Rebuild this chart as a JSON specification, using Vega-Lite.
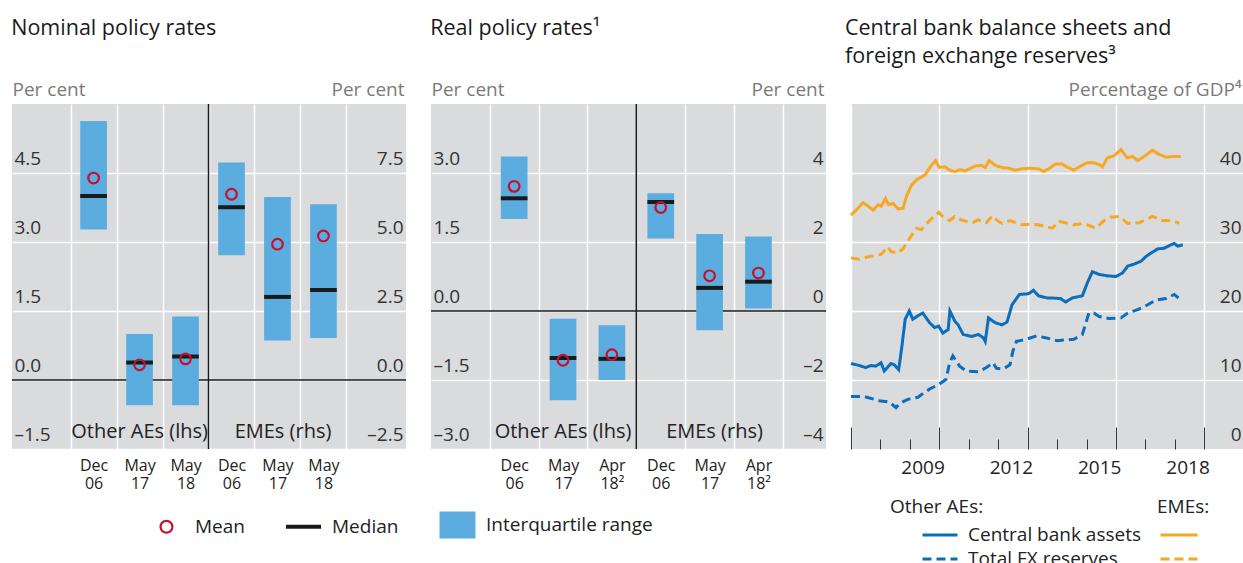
{
  "$schema": "https://vega.github.io/schema/vega-lite/v6.json",
  "padding": {"top": 17, "left": 11, "right": 0, "bottom": 0},
  "bounds": "flush",
  "spacing": 10,
  "config": {
    "font": "Open Sans",
    "view": {"fill": "#dadbdd", "stroke": null},
    "axis": {"labelFont": "Open Sans", "labelFontSize": 19, "labelColor": "#333333", "gridColor": "#ffffff", "gridWidth": 1.5, "domain": false, "ticks": false, "titleFont": "Open Sans", "titleFontWeight": "normal", "titleFontSize": 19, "titleColor": "#7a7a7a"},
    "title": {"font": "Open Sans", "fontSize": 21.5, "fontWeight": "normal", "anchor": "start", "color": "#1a1a1a", "lineHeight": 28},
    "legend": {"labelFont": "Open Sans", "labelFontSize": 19, "labelColor": "#222222", "labelLimit": 400, "titleFont": "Open Sans", "titleFontSize": 19, "titleFontWeight": "normal", "titleColor": "#222222"},
    "text": {"font": "Open Sans", "fontSize": 20, "color": "#222222"}
  },
  "datasets": {
    "nominal": [
      {"group": "Other AEs", "period": "Dec 06", "slot": 1, "q1": 3.27, "q3": 5.63, "median": 4.0, "mean": 4.39},
      {"group": "Other AEs", "period": "May 17", "slot": 2, "q1": -0.55, "q3": 1.0, "median": 0.38, "mean": 0.33},
      {"group": "Other AEs", "period": "May 18", "slot": 3, "q1": -0.55, "q3": 1.38, "median": 0.51, "mean": 0.46},
      {"group": "EMEs", "period": "Dec 06", "slot": 4, "q1": 4.52, "q3": 7.88, "median": 6.26, "mean": 6.73},
      {"group": "EMEs", "period": "May 17", "slot": 5, "q1": 1.43, "q3": 6.63, "median": 3.01, "mean": 4.92},
      {"group": "EMEs", "period": "May 18", "slot": 6, "q1": 1.52, "q3": 6.37, "median": 3.26, "mean": 5.22}
    ],
    "real": [
      {"group": "Other AEs", "period": "Dec 06", "slot": 1, "q1": 2.0, "q3": 3.36, "median": 2.45, "mean": 2.71},
      {"group": "Other AEs", "period": "May 17", "slot": 2, "q1": -1.94, "q3": -0.17, "median": -1.02, "mean": -1.07},
      {"group": "Other AEs", "period": "Apr 18", "slot": 3, "q1": -1.5, "q3": -0.31, "median": -1.04, "mean": -0.95},
      {"group": "EMEs", "period": "Dec 06", "slot": 4, "q1": 2.1, "q3": 3.41, "median": 3.16, "mean": 3.0},
      {"group": "EMEs", "period": "May 17", "slot": 5, "q1": -0.56, "q3": 2.23, "median": 0.67, "mean": 1.02},
      {"group": "EMEs", "period": "Apr 18", "slot": 6, "q1": 0.07, "q3": 2.16, "median": 0.85, "mean": 1.1}
    ],
    "legendItems": [{"item": "Mean"}, {"item": "Median"}, {"item": "Interquartile range"}],
    "ae": [
      {"measure": "Central bank assets", "t": 2007.0, "v": 12.4}, {"measure": "Central bank assets", "t": 2007.28, "v": 12.1}, {"measure": "Central bank assets", "t": 2007.5, "v": 11.8}, {"measure": "Central bank assets", "t": 2007.67, "v": 12.1}, {"measure": "Central bank assets", "t": 2007.84, "v": 12.0}, {"measure": "Central bank assets", "t": 2008.02, "v": 12.5}, {"measure": "Central bank assets", "t": 2008.13, "v": 11.3}, {"measure": "Central bank assets", "t": 2008.36, "v": 12.4}, {"measure": "Central bank assets", "t": 2008.47, "v": 12.2}, {"measure": "Central bank assets", "t": 2008.62, "v": 11.5}, {"measure": "Central bank assets", "t": 2008.73, "v": 14.9}, {"measure": "Central bank assets", "t": 2008.84, "v": 18.8}, {"measure": "Central bank assets", "t": 2008.98, "v": 20.0}, {"measure": "Central bank assets", "t": 2009.1, "v": 18.8}, {"measure": "Central bank assets", "t": 2009.27, "v": 19.3}, {"measure": "Central bank assets", "t": 2009.44, "v": 19.7}, {"measure": "Central bank assets", "t": 2009.67, "v": 18.3}, {"measure": "Central bank assets", "t": 2009.84, "v": 17.6}, {"measure": "Central bank assets", "t": 2009.98, "v": 17.8}, {"measure": "Central bank assets", "t": 2010.12, "v": 16.8}, {"measure": "Central bank assets", "t": 2010.3, "v": 17.3}, {"measure": "Central bank assets", "t": 2010.36, "v": 20.0}, {"measure": "Central bank assets", "t": 2010.53, "v": 18.5}, {"measure": "Central bank assets", "t": 2010.64, "v": 18.0}, {"measure": "Central bank assets", "t": 2010.81, "v": 16.6}, {"measure": "Central bank assets", "t": 2011.1, "v": 16.3}, {"measure": "Central bank assets", "t": 2011.33, "v": 16.6}, {"measure": "Central bank assets", "t": 2011.5, "v": 16.1}, {"measure": "Central bank assets", "t": 2011.56, "v": 15.6}, {"measure": "Central bank assets", "t": 2011.67, "v": 19.0}, {"measure": "Central bank assets", "t": 2011.9, "v": 18.3}, {"measure": "Central bank assets", "t": 2012.13, "v": 18.0}, {"measure": "Central bank assets", "t": 2012.3, "v": 18.4}, {"measure": "Central bank assets", "t": 2012.47, "v": 20.9}, {"measure": "Central bank assets", "t": 2012.72, "v": 22.4}, {"measure": "Central bank assets", "t": 2013.03, "v": 22.5}, {"measure": "Central bank assets", "t": 2013.2, "v": 23.0}, {"measure": "Central bank assets", "t": 2013.37, "v": 22.2}, {"measure": "Central bank assets", "t": 2013.66, "v": 21.9}, {"measure": "Central bank assets", "t": 2013.78, "v": 21.9}, {"measure": "Central bank assets", "t": 2014.12, "v": 21.8}, {"measure": "Central bank assets", "t": 2014.29, "v": 21.3}, {"measure": "Central bank assets", "t": 2014.52, "v": 21.9}, {"measure": "Central bank assets", "t": 2014.86, "v": 22.2}, {"measure": "Central bank assets", "t": 2015.03, "v": 24.1}, {"measure": "Central bank assets", "t": 2015.2, "v": 25.7}, {"measure": "Central bank assets", "t": 2015.43, "v": 25.3}, {"measure": "Central bank assets", "t": 2015.71, "v": 25.1}, {"measure": "Central bank assets", "t": 2016.0, "v": 25.0}, {"measure": "Central bank assets", "t": 2016.22, "v": 25.5}, {"measure": "Central bank assets", "t": 2016.4, "v": 26.5}, {"measure": "Central bank assets", "t": 2016.62, "v": 26.8}, {"measure": "Central bank assets", "t": 2016.85, "v": 27.2}, {"measure": "Central bank assets", "t": 2017.02, "v": 27.9}, {"measure": "Central bank assets", "t": 2017.19, "v": 28.4}, {"measure": "Central bank assets", "t": 2017.42, "v": 29.0}, {"measure": "Central bank assets", "t": 2017.64, "v": 29.1}, {"measure": "Central bank assets", "t": 2017.87, "v": 29.6}, {"measure": "Central bank assets", "t": 2017.98, "v": 29.8}, {"measure": "Central bank assets", "t": 2018.1, "v": 29.4}, {"measure": "Central bank assets", "t": 2018.27, "v": 29.6},
      {"measure": "Total FX reserves", "t": 2007.0, "v": 7.6}, {"measure": "Total FX reserves", "t": 2007.45, "v": 7.6}, {"measure": "Total FX reserves", "t": 2007.96, "v": 7.0}, {"measure": "Total FX reserves", "t": 2008.3, "v": 6.8}, {"measure": "Total FX reserves", "t": 2008.53, "v": 6.0}, {"measure": "Total FX reserves", "t": 2008.65, "v": 6.6}, {"measure": "Total FX reserves", "t": 2008.93, "v": 7.2}, {"measure": "Total FX reserves", "t": 2009.27, "v": 7.5}, {"measure": "Total FX reserves", "t": 2009.67, "v": 8.7}, {"measure": "Total FX reserves", "t": 2010.0, "v": 9.4}, {"measure": "Total FX reserves", "t": 2010.23, "v": 10.1}, {"measure": "Total FX reserves", "t": 2010.35, "v": 12.5}, {"measure": "Total FX reserves", "t": 2010.46, "v": 13.5}, {"measure": "Total FX reserves", "t": 2010.69, "v": 12.0}, {"measure": "Total FX reserves", "t": 2010.92, "v": 11.3}, {"measure": "Total FX reserves", "t": 2011.32, "v": 11.2}, {"measure": "Total FX reserves", "t": 2011.6, "v": 11.8}, {"measure": "Total FX reserves", "t": 2011.83, "v": 12.5}, {"measure": "Total FX reserves", "t": 2011.94, "v": 11.7}, {"measure": "Total FX reserves", "t": 2012.17, "v": 11.6}, {"measure": "Total FX reserves", "t": 2012.4, "v": 12.2}, {"measure": "Total FX reserves", "t": 2012.5, "v": 14.2}, {"measure": "Total FX reserves", "t": 2012.62, "v": 15.6}, {"measure": "Total FX reserves", "t": 2012.96, "v": 15.9}, {"measure": "Total FX reserves", "t": 2013.3, "v": 16.4}, {"measure": "Total FX reserves", "t": 2013.64, "v": 16.1}, {"measure": "Total FX reserves", "t": 2014.0, "v": 15.7}, {"measure": "Total FX reserves", "t": 2014.57, "v": 15.9}, {"measure": "Total FX reserves", "t": 2014.86, "v": 16.6}, {"measure": "Total FX reserves", "t": 2015.08, "v": 19.7}, {"measure": "Total FX reserves", "t": 2015.25, "v": 19.7}, {"measure": "Total FX reserves", "t": 2015.43, "v": 19.2}, {"measure": "Total FX reserves", "t": 2015.77, "v": 18.9}, {"measure": "Total FX reserves", "t": 2016.17, "v": 19.0}, {"measure": "Total FX reserves", "t": 2016.4, "v": 19.7}, {"measure": "Total FX reserves", "t": 2016.74, "v": 20.2}, {"measure": "Total FX reserves", "t": 2017.08, "v": 20.9}, {"measure": "Total FX reserves", "t": 2017.36, "v": 21.6}, {"measure": "Total FX reserves", "t": 2017.7, "v": 21.8}, {"measure": "Total FX reserves", "t": 2017.98, "v": 22.4}, {"measure": "Total FX reserves", "t": 2018.15, "v": 21.8}
    ],
    "eme": [
      {"measure": "Central bank assets", "t": 2007.0, "v": 33.9}, {"measure": "Central bank assets", "t": 2007.17, "v": 34.6}, {"measure": "Central bank assets", "t": 2007.41, "v": 35.7}, {"measure": "Central bank assets", "t": 2007.58, "v": 35.2}, {"measure": "Central bank assets", "t": 2007.75, "v": 34.6}, {"measure": "Central bank assets", "t": 2007.92, "v": 35.4}, {"measure": "Central bank assets", "t": 2008.03, "v": 35.2}, {"measure": "Central bank assets", "t": 2008.17, "v": 36.3}, {"measure": "Central bank assets", "t": 2008.28, "v": 35.4}, {"measure": "Central bank assets", "t": 2008.43, "v": 35.6}, {"measure": "Central bank assets", "t": 2008.6, "v": 34.8}, {"measure": "Central bank assets", "t": 2008.77, "v": 34.9}, {"measure": "Central bank assets", "t": 2008.88, "v": 36.6}, {"measure": "Central bank assets", "t": 2009.05, "v": 38.2}, {"measure": "Central bank assets", "t": 2009.22, "v": 39.0}, {"measure": "Central bank assets", "t": 2009.51, "v": 39.7}, {"measure": "Central bank assets", "t": 2009.68, "v": 40.8}, {"measure": "Central bank assets", "t": 2009.87, "v": 41.8}, {"measure": "Central bank assets", "t": 2010.0, "v": 40.8}, {"measure": "Central bank assets", "t": 2010.19, "v": 40.9}, {"measure": "Central bank assets", "t": 2010.36, "v": 40.4}, {"measure": "Central bank assets", "t": 2010.53, "v": 40.2}, {"measure": "Central bank assets", "t": 2010.7, "v": 40.5}, {"measure": "Central bank assets", "t": 2010.87, "v": 40.3}, {"measure": "Central bank assets", "t": 2011.22, "v": 41.0}, {"measure": "Central bank assets", "t": 2011.44, "v": 41.1}, {"measure": "Central bank assets", "t": 2011.56, "v": 40.8}, {"measure": "Central bank assets", "t": 2011.69, "v": 41.8}, {"measure": "Central bank assets", "t": 2011.9, "v": 41.1}, {"measure": "Central bank assets", "t": 2012.13, "v": 40.8}, {"measure": "Central bank assets", "t": 2012.35, "v": 40.7}, {"measure": "Central bank assets", "t": 2012.58, "v": 40.4}, {"measure": "Central bank assets", "t": 2012.8, "v": 40.6}, {"measure": "Central bank assets", "t": 2013.09, "v": 40.7}, {"measure": "Central bank assets", "t": 2013.38, "v": 40.6}, {"measure": "Central bank assets", "t": 2013.55, "v": 40.2}, {"measure": "Central bank assets", "t": 2013.71, "v": 40.6}, {"measure": "Central bank assets", "t": 2013.95, "v": 41.3}, {"measure": "Central bank assets", "t": 2014.17, "v": 41.3}, {"measure": "Central bank assets", "t": 2014.33, "v": 40.9}, {"measure": "Central bank assets", "t": 2014.57, "v": 40.4}, {"measure": "Central bank assets", "t": 2014.8, "v": 41.0}, {"measure": "Central bank assets", "t": 2015.03, "v": 41.5}, {"measure": "Central bank assets", "t": 2015.26, "v": 41.5}, {"measure": "Central bank assets", "t": 2015.43, "v": 41.2}, {"measure": "Central bank assets", "t": 2015.54, "v": 40.9}, {"measure": "Central bank assets", "t": 2015.71, "v": 42.2}, {"measure": "Central bank assets", "t": 2015.94, "v": 42.5}, {"measure": "Central bank assets", "t": 2016.17, "v": 43.4}, {"measure": "Central bank assets", "t": 2016.38, "v": 42.2}, {"measure": "Central bank assets", "t": 2016.57, "v": 42.4}, {"measure": "Central bank assets", "t": 2016.74, "v": 41.8}, {"measure": "Central bank assets", "t": 2016.96, "v": 42.4}, {"measure": "Central bank assets", "t": 2017.24, "v": 43.3}, {"measure": "Central bank assets", "t": 2017.47, "v": 42.7}, {"measure": "Central bank assets", "t": 2017.7, "v": 42.3}, {"measure": "Central bank assets", "t": 2017.92, "v": 42.4}, {"measure": "Central bank assets", "t": 2018.2, "v": 42.4},
      {"measure": "Total FX reserves", "t": 2007.0, "v": 27.7}, {"measure": "Total FX reserves", "t": 2007.28, "v": 27.5}, {"measure": "Total FX reserves", "t": 2007.62, "v": 27.9}, {"measure": "Total FX reserves", "t": 2008.02, "v": 28.2}, {"measure": "Total FX reserves", "t": 2008.25, "v": 29.3}, {"measure": "Total FX reserves", "t": 2008.36, "v": 28.6}, {"measure": "Total FX reserves", "t": 2008.59, "v": 28.4}, {"measure": "Total FX reserves", "t": 2008.76, "v": 29.0}, {"measure": "Total FX reserves", "t": 2008.99, "v": 30.5}, {"measure": "Total FX reserves", "t": 2009.22, "v": 32.0}, {"measure": "Total FX reserves", "t": 2009.39, "v": 31.8}, {"measure": "Total FX reserves", "t": 2009.67, "v": 33.1}, {"measure": "Total FX reserves", "t": 2009.98, "v": 34.3}, {"measure": "Total FX reserves", "t": 2010.12, "v": 33.7}, {"measure": "Total FX reserves", "t": 2010.35, "v": 33.1}, {"measure": "Total FX reserves", "t": 2010.52, "v": 33.7}, {"measure": "Total FX reserves", "t": 2010.8, "v": 33.1}, {"measure": "Total FX reserves", "t": 2011.14, "v": 32.8}, {"measure": "Total FX reserves", "t": 2011.31, "v": 33.2}, {"measure": "Total FX reserves", "t": 2011.6, "v": 32.8}, {"measure": "Total FX reserves", "t": 2011.8, "v": 33.8}, {"measure": "Total FX reserves", "t": 2012.0, "v": 33.0}, {"measure": "Total FX reserves", "t": 2012.13, "v": 32.7}, {"measure": "Total FX reserves", "t": 2012.4, "v": 33.1}, {"measure": "Total FX reserves", "t": 2012.8, "v": 32.5}, {"measure": "Total FX reserves", "t": 2013.09, "v": 32.6}, {"measure": "Total FX reserves", "t": 2013.37, "v": 32.5}, {"measure": "Total FX reserves", "t": 2013.84, "v": 32.0}, {"measure": "Total FX reserves", "t": 2014.07, "v": 33.0}, {"measure": "Total FX reserves", "t": 2014.57, "v": 32.5}, {"measure": "Total FX reserves", "t": 2014.91, "v": 32.7}, {"measure": "Total FX reserves", "t": 2015.31, "v": 32.0}, {"measure": "Total FX reserves", "t": 2015.6, "v": 33.1}, {"measure": "Total FX reserves", "t": 2015.82, "v": 33.6}, {"measure": "Total FX reserves", "t": 2016.11, "v": 33.7}, {"measure": "Total FX reserves", "t": 2016.4, "v": 32.7}, {"measure": "Total FX reserves", "t": 2016.79, "v": 32.8}, {"measure": "Total FX reserves", "t": 2017.24, "v": 33.7}, {"measure": "Total FX reserves", "t": 2017.58, "v": 33.1}, {"measure": "Total FX reserves", "t": 2017.92, "v": 33.1}, {"measure": "Total FX reserves", "t": 2018.15, "v": 32.7}
    ]
  },
  "vconcat": [
    {
      "bounds": "flush",
      "spacing": 25,
      "hconcat": [
        {
          "width": 394,
          "height": 345,
          "view": {"fill": "#dadbdd", "stroke": null},
          "title": {"text": "Nominal policy rates", "offset": 41},
          "data": {"name": "nominal"},
          "layer": [
            {
              "layer": [
                {
                  "data": {"values": [{}]},
                  "mark": {"type": "rule", "color": "#1a1a1a", "strokeWidth": 1.5},
                  "encoding": {
                    "y": {"datum": 0, "type": "quantitative", "scale": {"domain": [-1.5, 6], "nice": false, "zero": false},
                      "axis": {"orient": "left", "values": [-1.5, 0, 1.5, 3, 4.5], "labelExpr": "(datum.value < 0 ? '–' : '') + format(abs(datum.value), '.1f')", "labelAlign": "left", "labelPadding": -2, "labelBaseline": "alphabetic", "labelOffset": -9, "labelOverlap": false, "labelFlush": false, "grid": true, "title": "Per cent", "titleAngle": 0, "titleAlign": "left", "titleBaseline": "alphabetic", "titleX": 0, "titleY": -9}}
                  }
                },
                {
                  "data": {"values": [{}]},
                  "mark": {"type": "rule", "color": "#1a1a1a", "strokeWidth": 1.5},
                  "encoding": {
                    "x": {"datum": 3.5, "type": "quantitative", "scale": {"domain": [-0.666, 7.687], "nice": false, "zero": false},
                      "axis": {"orient": "bottom", "values": [0.5, 1.5, 2.5, 3.5, 4.5, 5.5, 6.5], "title": null, "grid": true, "labels": false}}
                  }
                },
                {
                  "transform": [{"filter": "datum.group === 'Other AEs'"}],
                  "mark": {"type": "bar", "width": 26.7, "color": "#5badE0"},
                  "encoding": {
                    "x": {"field": "slot", "type": "quantitative", "scale": {"domain": [-0.666, 7.687], "nice": false, "zero": false}},
                    "y": {"field": "q1", "type": "quantitative", "scale": {"domain": [-1.5, 6], "nice": false, "zero": false}},
                    "y2": {"field": "q3"}
                  }
                },
                {
                  "transform": [{"filter": "datum.group === 'Other AEs'"}],
                  "mark": {"type": "tick", "orient": "horizontal", "size": 26.7, "thickness": 4, "color": "#1a1a1a", "opacity": 1},
                  "encoding": {
                    "x": {"field": "slot", "type": "quantitative", "scale": {"domain": [-0.666, 7.687], "nice": false, "zero": false}},
                    "y": {"field": "median", "type": "quantitative", "scale": {"domain": [-1.5, 6], "nice": false, "zero": false}}
                  }
                },
                {
                  "transform": [{"filter": "datum.group === 'Other AEs'"}],
                  "mark": {"type": "point", "shape": "circle", "filled": false, "stroke": "#c8102e", "strokeWidth": 2.2, "size": 113, "opacity": 1},
                  "encoding": {
                    "x": {"field": "slot", "type": "quantitative", "scale": {"domain": [-0.666, 7.687], "nice": false, "zero": false}},
                    "y": {"field": "mean", "type": "quantitative", "scale": {"domain": [-1.5, 6], "nice": false, "zero": false}}
                  }
                },
                {
                  "data": {"values": [{}]},
                  "mark": {"type": "text", "baseline": "middle", "align": "center"},
                  "encoding": {
                    "x": {"datum": 2, "type": "quantitative"},
                    "y": {"datum": -1.13, "type": "quantitative"},
                    "text": {"value": "Other AEs (lhs)"}
                  }
                },
                {
                  "data": {"values": [{}]},
                  "mark": {"type": "text", "baseline": "middle", "align": "center"},
                  "encoding": {
                    "x": {"datum": 5.12, "type": "quantitative"},
                    "y": {"datum": -1.13, "type": "quantitative"},
                    "text": {"value": "EMEs (rhs)"}
                  }
                }
              ]
            },
            {
              "transform": [{"filter": "datum.group === 'EMEs'"}],
              "layer": [
                {
                  "mark": {"type": "bar", "width": 26.7, "color": "#5badE0"},
                  "encoding": {
                    "x": {"field": "slot", "type": "quantitative", "scale": {"domain": [-0.666, 7.687], "nice": false, "zero": false},
                      "axis": {"orient": "bottom", "values": [1, 2, 3, 4, 5, 6], "title": null, "grid": false, "labelExpr": "(datum.value === 1 || datum.value === 4) ? ['Dec', '06'] : (datum.value === 2 || datum.value === 5) ? ['May', '17'] : ['May', '18']", "labelFontSize": 16, "labelLineHeight": 18, "labelBaseline": "top", "labelPadding": 8, "labelFlush": false, "labelOverlap": false, "labelColor": "#222222"}},
                    "y": {"field": "q1", "type": "quantitative", "scale": {"domain": [-2.5, 10], "nice": false, "zero": false},
                      "axis": {"orient": "right", "values": [-2.5, 0, 2.5, 5, 7.5], "labelExpr": "(datum.value < 0 ? '–' : '') + format(abs(datum.value), '.1f')", "labelAlign": "right", "labelPadding": -3, "labelBaseline": "alphabetic", "labelOffset": -9, "labelOverlap": false, "labelFlush": false, "grid": false, "title": "Per cent", "titleAngle": 0, "titleAlign": "right", "titleBaseline": "alphabetic", "titleX": -2, "titleY": -9}},
                    "y2": {"field": "q3"}
                  }
                },
                {
                  "mark": {"type": "tick", "orient": "horizontal", "size": 26.7, "thickness": 4, "color": "#1a1a1a", "opacity": 1},
                  "encoding": {
                    "x": {"field": "slot", "type": "quantitative", "scale": {"domain": [-0.666, 7.687], "nice": false, "zero": false}},
                    "y": {"field": "median", "type": "quantitative", "scale": {"domain": [-2.5, 10], "nice": false, "zero": false}}
                  }
                },
                {
                  "mark": {"type": "point", "shape": "circle", "filled": false, "stroke": "#c8102e", "strokeWidth": 2.2, "size": 113, "opacity": 1},
                  "encoding": {
                    "x": {"field": "slot", "type": "quantitative", "scale": {"domain": [-0.666, 7.687], "nice": false, "zero": false}},
                    "y": {"field": "mean", "type": "quantitative", "scale": {"domain": [-2.5, 10], "nice": false, "zero": false}}
                  }
                }
              ]
            }
          ],
          "resolve": {"scale": {"y": "independent"}, "axis": {"x": "independent"}}
        },
        {
          "width": 395,
          "height": 345,
          "view": {"fill": "#dadbdd", "stroke": null},
          "title": {"text": "Real policy rates¹", "offset": 41},
          "data": {"name": "real"},
          "layer": [
            {
              "layer": [
                {
                  "data": {"values": [{}]},
                  "mark": {"type": "rule", "color": "#1a1a1a", "strokeWidth": 1.5},
                  "encoding": {
                    "y": {"datum": 0, "type": "quantitative", "scale": {"domain": [-3, 4.5], "nice": false, "zero": false},
                      "axis": {"orient": "left", "values": [-3, -1.5, 0, 1.5, 3], "labelExpr": "(datum.value < 0 ? '–' : '') + format(abs(datum.value), '.1f')", "labelAlign": "left", "labelPadding": -2, "labelBaseline": "alphabetic", "labelOffset": -9, "labelOverlap": false, "labelFlush": false, "grid": true, "title": "Per cent", "titleAngle": 0, "titleAlign": "left", "titleBaseline": "alphabetic", "titleX": 0, "titleY": -9}}
                  }
                },
                {
                  "data": {"values": [{}]},
                  "mark": {"type": "rule", "color": "#1a1a1a", "strokeWidth": 1.5},
                  "encoding": {
                    "x": {"datum": 3.5, "type": "quantitative", "scale": {"domain": [-0.6, 7.28], "nice": false, "zero": false},
                      "axis": {"orient": "bottom", "values": [0.5, 1.5, 2.5, 3.5, 4.5, 5.5, 6.5], "title": null, "grid": true, "labels": false}}
                  }
                },
                {
                  "transform": [{"filter": "datum.group === 'Other AEs'"}],
                  "mark": {"type": "bar", "width": 26.7, "color": "#5badE0"},
                  "encoding": {
                    "x": {"field": "slot", "type": "quantitative", "scale": {"domain": [-0.6, 7.28], "nice": false, "zero": false}},
                    "y": {"field": "q1", "type": "quantitative", "scale": {"domain": [-3, 4.5], "nice": false, "zero": false}},
                    "y2": {"field": "q3"}
                  }
                },
                {
                  "transform": [{"filter": "datum.group === 'Other AEs'"}],
                  "mark": {"type": "tick", "orient": "horizontal", "size": 26.7, "thickness": 4, "color": "#1a1a1a", "opacity": 1},
                  "encoding": {
                    "x": {"field": "slot", "type": "quantitative", "scale": {"domain": [-0.6, 7.28], "nice": false, "zero": false}},
                    "y": {"field": "median", "type": "quantitative", "scale": {"domain": [-3, 4.5], "nice": false, "zero": false}}
                  }
                },
                {
                  "transform": [{"filter": "datum.group === 'Other AEs'"}],
                  "mark": {"type": "point", "shape": "circle", "filled": false, "stroke": "#c8102e", "strokeWidth": 2.2, "size": 113, "opacity": 1},
                  "encoding": {
                    "x": {"field": "slot", "type": "quantitative", "scale": {"domain": [-0.6, 7.28], "nice": false, "zero": false}},
                    "y": {"field": "mean", "type": "quantitative", "scale": {"domain": [-3, 4.5], "nice": false, "zero": false}}
                  }
                },
                {
                  "data": {"values": [{}]},
                  "mark": {"type": "text", "baseline": "middle", "align": "center"},
                  "encoding": {
                    "x": {"datum": 2, "type": "quantitative"},
                    "y": {"datum": -2.63, "type": "quantitative"},
                    "text": {"value": "Other AEs (lhs)"}
                  }
                },
                {
                  "data": {"values": [{}]},
                  "mark": {"type": "text", "baseline": "middle", "align": "center"},
                  "encoding": {
                    "x": {"datum": 5.1, "type": "quantitative"},
                    "y": {"datum": -2.63, "type": "quantitative"},
                    "text": {"value": "EMEs (rhs)"}
                  }
                }
              ]
            },
            {
              "transform": [{"filter": "datum.group === 'EMEs'"}],
              "layer": [
                {
                  "mark": {"type": "bar", "width": 26.7, "color": "#5badE0"},
                  "encoding": {
                    "x": {"field": "slot", "type": "quantitative", "scale": {"domain": [-0.6, 7.28], "nice": false, "zero": false},
                      "axis": {"orient": "bottom", "values": [1, 2, 3, 4, 5, 6], "title": null, "grid": false, "labelExpr": "(datum.value === 1 || datum.value === 4) ? ['Dec', '06'] : (datum.value === 2 || datum.value === 5) ? ['May', '17'] : ['Apr', '18²']", "labelFontSize": 16, "labelLineHeight": 18, "labelBaseline": "top", "labelPadding": 8, "labelFlush": false, "labelOverlap": false, "labelColor": "#222222"}},
                    "y": {"field": "q1", "type": "quantitative", "scale": {"domain": [-4, 6], "nice": false, "zero": false},
                      "axis": {"orient": "right", "values": [-4, -2, 0, 2, 4], "labelExpr": "(datum.value < 0 ? '–' : '') + format(abs(datum.value), 'd')", "labelAlign": "right", "labelPadding": -3, "labelBaseline": "alphabetic", "labelOffset": -9, "labelOverlap": false, "labelFlush": false, "grid": false, "title": "Per cent", "titleAngle": 0, "titleAlign": "right", "titleBaseline": "alphabetic", "titleX": -2, "titleY": -9}},
                    "y2": {"field": "q3"}
                  }
                },
                {
                  "mark": {"type": "tick", "orient": "horizontal", "size": 26.7, "thickness": 4, "color": "#1a1a1a", "opacity": 1},
                  "encoding": {
                    "x": {"field": "slot", "type": "quantitative", "scale": {"domain": [-0.6, 7.28], "nice": false, "zero": false}},
                    "y": {"field": "median", "type": "quantitative", "scale": {"domain": [-4, 6], "nice": false, "zero": false}}
                  }
                },
                {
                  "mark": {"type": "point", "shape": "circle", "filled": false, "stroke": "#c8102e", "strokeWidth": 2.2, "size": 113, "opacity": 1},
                  "encoding": {
                    "x": {"field": "slot", "type": "quantitative", "scale": {"domain": [-0.6, 7.28], "nice": false, "zero": false}},
                    "y": {"field": "mean", "type": "quantitative", "scale": {"domain": [-4, 6], "nice": false, "zero": false}}
                  }
                }
              ]
            }
          ],
          "resolve": {"scale": {"y": "independent"}, "axis": {"x": "independent"}}
        },
        {
          "width": 393,
          "height": 345,
          "view": {"fill": "#dadbdd", "stroke": null},
          "title": {"text": ["Central bank balance sheets and", "foreign exchange reserves³"], "offset": 13},
          "layer": [
            {
              "data": {"name": "ae"},
              "mark": {"type": "line", "color": "#0a6ebd", "strokeWidth": 3},
              "encoding": {
                "x": {"field": "t", "type": "quantitative", "scale": {"domain": [2007, 2020.35], "nice": false, "zero": false},
                  "axis": {"orient": "bottom", "values": [2007, 2008, 2009, 2010, 2011, 2012, 2013, 2014, 2015, 2016, 2017, 2018, 2019], "title": null, "grid": true, "gridOpacity": {"condition": {"test": "datum.value % 3 === 0", "value": 1}, "value": 0}, "ticks": true, "tickSize": {"condition": {"test": "datum.value % 3 === 0", "value": -22}, "value": -10}, "tickColor": "#333333", "tickWidth": 1, "labels": false}},
                "y": {"field": "v", "type": "quantitative", "scale": {"domain": [0, 50], "nice": false, "zero": false},
                  "axis": {"orient": "right", "values": [0, 10, 20, 30, 40], "labelAlign": "right", "labelPadding": -3, "labelBaseline": "alphabetic", "labelOffset": -9, "labelOverlap": false, "labelFlush": false, "grid": true, "gridOpacity": {"condition": {"test": "datum.value === 0", "value": 0}, "value": 1}, "title": "Percentage of GDP⁴", "titleAngle": 0, "titleAlign": "right", "titleBaseline": "alphabetic", "titleX": -3, "titleY": -9}},
                "strokeDash": {"field": "measure", "type": "nominal", "scale": {"domain": ["Central bank assets", "Total FX reserves"], "range": [[1, 0], [9, 5]]},
                  "legend": {"title": "Other AEs:", "orient": "none", "legendX": 39, "legendY": 394, "symbolType": "M-1.4,0H1.4", "symbolSize": 625, "symbolStrokeColor": "#0a6ebd", "symbolStrokeWidth": 3, "symbolOffset": 36, "labelOffset": 14, "rowPadding": 0, "titlePadding": 4}}
              }
            },
            {
              "data": {"name": "eme"},
              "mark": {"type": "line", "color": "#f7a823", "strokeWidth": 3},
              "encoding": {
                "x": {"field": "t", "type": "quantitative", "scale": {"domain": [2007, 2020.35], "nice": false, "zero": false},
                  "axis": {"orient": "bottom", "values": [2009.5, 2012.5, 2015.5, 2018.5], "title": null, "grid": false, "ticks": false, "labelExpr": "'' + floor(datum.value)", "labelOffset": -2, "labelPadding": 9, "labelBaseline": "top", "labelFlush": false, "labelOverlap": false, "labelColor": "#222222"}},
                "y": {"field": "v", "type": "quantitative", "scale": {"domain": [0, 50], "nice": false, "zero": false}},
                "strokeDash": {"field": "measure", "type": "nominal", "scale": {"domain": ["Central bank assets", "Total FX reserves"], "range": [[1, 0], [9, 5]]},
                  "legend": {"title": "EMEs:", "orient": "none", "legendX": 306, "legendY": 394, "symbolType": "M-1.48,0H1.48", "symbolSize": 625, "symbolStrokeColor": "#f7a823", "symbolStrokeWidth": 3, "symbolOffset": 8, "labelExpr": "''", "rowPadding": 0, "titlePadding": 4}}
              }
            }
          ],
          "resolve": {"scale": {"strokeDash": "independent"}, "legend": {"strokeDash": "independent"}, "axis": {"x": "independent"}}
        }
      ]
    },
    {
      "width": 1,
      "height": 1,
      "view": {"fill": null, "stroke": null},
      "data": {"name": "legendItems"},
      "mark": {"type": "point", "opacity": 0, "filled": true, "size": 1},
      "encoding": {
        "shape": {"field": "item", "type": "nominal", "scale": {"domain": ["Mean", "Median", "Interquartile range"], "range": ["M0.378,0A0.378,0.378,0,1,1,-0.378,0A0.378,0.378,0,1,1,0.378,0ZM0.26,0A0.26,0.26,0,1,0,-0.26,0A0.26,0.26,0,1,0,0.26,0Z", "M-0.946,-0.108H0.946V0.108H-0.946Z", "M-0.973,-0.73H0.973V0.73H-0.973Z"]},
          "legend": {"title": null, "orient": "none", "legendX": 136, "legendY": 402, "direction": "horizontal", "symbolSize": 1369, "labelOffset": 10, "columnPadding": 40, "symbolStrokeWidth": 0, "symbolOpacity": 1}},
        "color": {"field": "item", "type": "nominal", "scale": {"domain": ["Mean", "Median", "Interquartile range"], "range": ["#c8102e", "#1a1a1a", "#5badE0"]},
          "legend": {"title": null, "orient": "none", "legendX": 136, "legendY": 402, "direction": "horizontal", "symbolSize": 1369, "labelOffset": 10, "columnPadding": 40, "symbolStrokeWidth": 0, "symbolOpacity": 1}}
      }
    }
  ]
}
